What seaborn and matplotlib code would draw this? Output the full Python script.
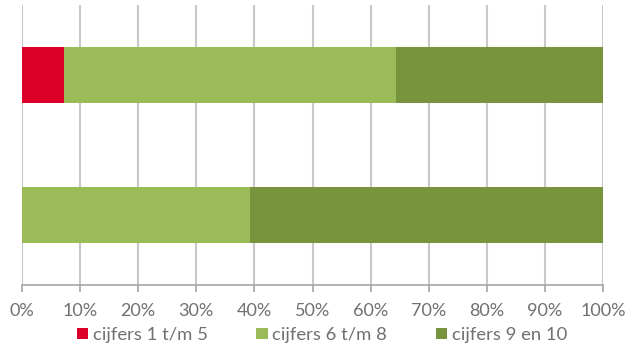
import matplotlib
matplotlib.use("Agg")
import matplotlib.pyplot as plt
from matplotlib.patches import Patch
import numpy as np
import pandas as pd
import seaborn as sns

# Data: share of grades per group (percent)
categories = ["groep 1", "groep 2"]
series_names = ["cijfers 1 t/m 5", "cijfers 6 t/m 8", "cijfers 9 en 10"]
low = [7.2, 0.0]
mid = [57.2, 39.3]
high = [35.6, 60.7]
tick_labels = [f"{v}%" for v in range(0, 101, 10)]
colors = ["#DC0028", "#9BBB59", "#77933C"]

sns.set_theme(style="white")
plt.rcParams["font.family"] = ["Lato", "DejaVu Sans"]

text_gray = "#707070"
grid_gray = "#C8C8C8"

fig = plt.figure(figsize=(6.37, 3.49), dpi=100)
ax = fig.add_axes([22 / 637, (349 - 285) / 349, (603 - 22) / 637, 280 / 349])

# Cumulative totals, drawn from the outermost segment inward so they stack
values = np.array([low, mid, high])
cum = np.cumsum(values, axis=0)
for i in range(len(series_names) - 1, -1, -1):
    df = pd.DataFrame({"cat": categories, "val": cum[i]})
    sns.barplot(data=df, x="val", y="cat", color=colors[i], width=0.4,
                saturation=1, orient="h", ax=ax, zorder=3, linewidth=0)

ax.set_xlim(0, 100)
ax.set_ylim(1.5, -0.5)
ax.set_xticks(range(0, 101, 10))
ax.set_xticklabels(tick_labels)
ax.set_yticks([])
ax.set_xlabel("")
ax.set_ylabel("")

ax.grid(axis="x", color=grid_gray, linewidth=1.5, zorder=0)
ax.grid(axis="y", visible=False)
for side in ["top", "right", "left"]:
    ax.spines[side].set_visible(False)
ax.spines["bottom"].set_color("#A6A6A6")
ax.spines["bottom"].set_linewidth(1.2)
ax.tick_params(axis="x", colors="#A6A6A6", length=5, width=1.2,
               labelcolor=text_gray, labelsize=13, pad=8, direction="out",
               bottom=True)

handles = [Patch(facecolor=c, edgecolor="none", label=n)
           for c, n in zip(colors, series_names)]
fig.legend(handles=handles, loc="center",
           bbox_to_anchor=(322 / 637, 1 - 335 / 349),
           ncol=3, frameon=False, fontsize=13.3, labelcolor=text_gray,
           handlelength=0.62, handleheight=0.62, handletextpad=0.25,
           columnspacing=2.63, borderaxespad=0)

fig.savefig("out.png", dpi=100)
